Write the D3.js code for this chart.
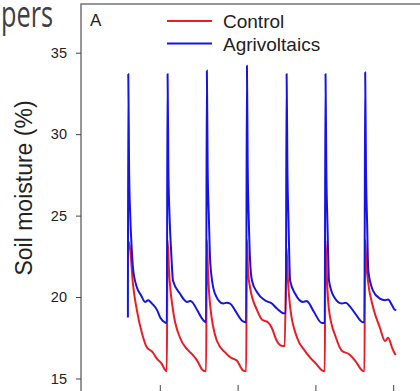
<!DOCTYPE html>
<html lang="en">
<head>
    <meta charset="UTF-8">
    <title>Soil moisture</title>
    <script src="https://cdn.jsdelivr.net/npm/d3@7"></script>
    <style>
        body { margin: 0; background: #fff; }
        svg { display: block; font-family: "Liberation Sans", Arial, sans-serif; }
    </style>
</head>
<body>
    <svg width="420" height="391"></svg>

    <script>
        // soil moisture (%) vs time (days)
        const control = [
            [1.20, 23.4], [1.24, 22.9], [1.31, 20.8], [1.41, 19.2], [1.54, 17.8], [1.67, 16.9],
            [1.75, 16.75], [1.82, 16.6], [1.93, 16.2], [2.05, 15.9], [2.13, 15.55], [2.18, 15.45],
            [2.20, 23.5], [2.24, 21.5], [2.34, 19.2], [2.52, 17.5], [2.70, 16.8], [2.83, 16.5],
            [2.96, 16.1], [3.11, 15.5], [3.19, 15.45],
            [3.21, 23.5], [3.24, 21.5], [3.29, 19.6], [3.47, 17.3], [3.68, 16.6], [3.81, 16.3],
            [3.98, 16.1], [4.14, 15.5], [4.22, 15.45],
            [4.24, 23.5], [4.27, 21.5], [4.32, 20.6], [4.50, 19.2], [4.63, 18.6], [4.78, 18.45],
            [4.88, 18.1], [5.01, 17.3], [5.14, 17.0], [5.21, 17.0],
            [5.26, 23.0], [5.29, 21.2], [5.35, 19.4], [5.53, 17.5], [5.73, 16.7], [5.86, 16.3],
            [6.02, 15.9], [6.17, 15.5], [6.24, 15.45],
            [6.26, 23.5], [6.29, 21.5], [6.35, 19.2], [6.53, 17.5], [6.68, 16.7], [6.86, 16.5],
            [7.02, 16.1], [7.20, 15.5], [7.26, 15.45],
            [7.28, 23.5], [7.31, 22.0], [7.35, 21.0], [7.48, 19.4], [7.66, 18.1], [7.79, 17.3],
            [7.87, 17.5], [7.97, 16.9], [8.05, 16.5], [8.07, 16.45]
        ];

        const agrivoltaics = [
            [1.18, 18.75], [1.19, 33.7], [1.21, 28.0], [1.24, 25.0], [1.28, 22.9], [1.31, 21.8],
            [1.41, 20.6], [1.52, 20.1], [1.62, 19.7], [1.70, 19.8], [1.76, 19.7], [1.80, 19.6],
            [1.93, 19.2], [2.01, 18.75], [2.13, 18.45], [2.18, 18.4],
            [2.20, 33.7], [2.22, 28.0], [2.25, 25.0], [2.29, 22.9], [2.34, 21.0], [2.52, 20.2],
            [2.70, 19.7], [2.78, 19.75], [2.83, 19.7], [2.96, 19.2], [3.11, 18.6], [3.19, 18.45],
            [3.21, 33.9], [3.23, 28.0], [3.26, 25.0], [3.30, 22.0], [3.42, 20.2], [3.63, 19.6],
            [3.72, 19.65], [3.81, 19.6], [3.93, 19.2], [4.14, 18.5], [4.22, 18.45],
            [4.24, 34.2], [4.26, 28.0], [4.29, 24.5], [4.32, 22.3], [4.37, 21.0], [4.50, 20.3],
            [4.70, 19.8], [4.88, 19.6], [5.01, 19.3], [5.19, 19.0], [5.24, 19.0],
            [5.26, 33.7], [5.28, 28.0], [5.31, 24.5], [5.35, 21.0], [5.48, 20.2], [5.68, 19.7],
            [5.78, 19.75], [5.81, 19.7], [5.96, 19.1], [6.17, 18.4], [6.24, 18.4],
            [6.26, 33.7], [6.28, 28.0], [6.31, 24.5], [6.35, 21.0], [6.48, 20.0], [6.68, 19.6],
            [6.78, 19.65], [6.86, 19.5], [7.02, 19.0], [7.22, 18.45], [7.26, 18.45],
            [7.28, 33.8], [7.30, 28.0], [7.33, 24.5], [7.36, 21.6], [7.48, 20.4], [7.66, 19.9],
            [7.79, 19.8], [7.87, 19.85], [7.97, 19.5], [8.05, 19.2], [8.07, 19.25]
        ];

        const yTicks = [15, 20, 25, 30, 35];
        const xTicks = [2, 4, 6, 8];
        const seriesNames = ["Control", "Agrivoltaics"];
        const colors = ["#ec1c24", "#1414e8"];

        const svg = d3.select("svg");

        const x = d3.scaleLinear().domain([0, 9]).range([82, 82 + 9 * 38.9]);
        const y = d3.scaleLinear().domain([15, 35]).range([378.5, 52.7]);

        // slide text cut off at the left
        svg.append("text")
            .attr("x", 1).attr("y", 27)
            .attr("font-family", "'Open Sans', sans-serif")
            .attr("font-size", 36)
            .attr("textLength", 52)
            .attr("lengthAdjust", "spacingAndGlyphs")
            .attr("fill", "#404040")
            .text("pers");

        // panel frame
        svg.append("rect")
            .attr("x", 81).attr("y", 4)
            .attr("width", 500).attr("height", 500)
            .attr("fill", "none")
            .attr("stroke", "#6a6a6a")
            .attr("stroke-width", 1.4);

        const yAxis = svg.append("g")
            .attr("transform", "translate(81,0)")
            .call(d3.axisLeft(y).tickValues(yTicks).tickSize(5).tickPadding(9));
        yAxis.select(".domain").remove();
        yAxis.selectAll("line").attr("stroke", "#444");
        yAxis.selectAll("text")
            .attr("font-size", 14.5)
            .attr("font-family", "'Liberation Sans', Arial, sans-serif")
            .attr("fill", "#222");

        const xAxis = svg.append("g")
            .attr("transform", "translate(0,385)")
            .call(d3.axisBottom(x).tickValues(xTicks).tickSize(7).tickFormat(""));
        xAxis.select(".domain").remove();
        xAxis.selectAll("line").attr("stroke", "#444");

        svg.append("text")
            .attr("transform", "translate(32,188) rotate(-90)")
            .attr("text-anchor", "middle")
            .attr("font-size", 23)
            .attr("fill", "#222")
            .text("Soil moisture (%)");

        svg.append("text")
            .attr("x", 90).attr("y", 26)
            .attr("font-size", 17)
            .attr("fill", "#222")
            .text("A");

        const line = d3.line()
            .x(d => x(d[0]))
            .y(d => y(d[1]))
            .curve(d3.curveMonotoneX);

        [control, agrivoltaics].forEach((data, i) => {
            svg.append("path")
                .datum(data)
                .attr("fill", "none")
                .attr("stroke", colors[i])
                .attr("stroke-width", 2)
                .attr("stroke-linejoin", "round")
                .attr("d", line);
        });

        // legend
        const legend = svg.append("g");
        seriesNames.forEach((name, i) => {
            const ly = 21 + i * 22.5;
            legend.append("line")
                .attr("x1", 167).attr("x2", 212)
                .attr("y1", ly).attr("y2", ly)
                .attr("stroke", colors[i])
                .attr("stroke-width", 2);
            legend.append("text")
                .attr("x", 223).attr("y", ly + 7)
                .attr("font-size", 19)
                .attr("fill", "#222")
                .text(name);
        });
    </script>
</body>
</html>
